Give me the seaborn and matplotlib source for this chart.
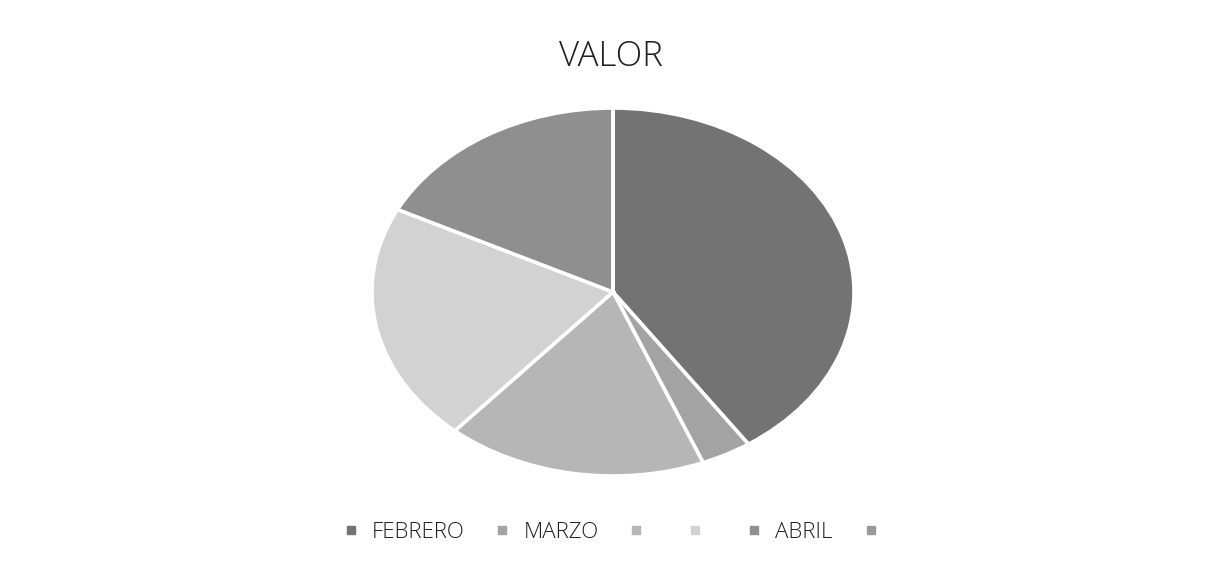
import matplotlib.pyplot as plt
from matplotlib.lines import Line2D
import seaborn as sns

# Datos (porcentajes aproximados)
labels = ['FEBRERO', 'MARZO', '', '', 'ABRIL', '']
values = [40.5, 3.4, 17.5, 21.0, 17.6, 0.0]
colors = ['#737373', '#a3a3a3', '#b6b6b6', '#d2d2d2', '#8f8f8f', '#9a9a9a']


def main():
    sns.set_theme(style="white")
    plt.rcParams['font.family'] = ['Open Sans', 'DejaVu Sans']

    fig = plt.figure(figsize=(12.06, 5.63), dpi=100)
    # axes placed so the stretched pie fills an ellipse like the original
    ax = fig.add_axes([372 / 1206, 1 - 476 / 563, 482 / 1206, 368 / 563])

    wedges, _ = ax.pie(
        values, colors=colors, startangle=90, counterclock=False,
        wedgeprops=dict(edgecolor='white', linewidth=2.6),
    )
    ax.set_aspect('auto')
    ax.set_xlim(-1.0, 1.0)
    ax.set_ylim(-1.0, 1.0)
    ax.axis('off')

    fig.text(611 / 1206, 1 - 57 / 563, 'VALOR', ha='center', va='center',
             fontsize=25, fontweight='light', color='#1e1e1e')

    # square markers for the legend
    handles = [Line2D([], [], marker='s', linestyle='', markersize=6,
                      markerfacecolor=c, markeredgecolor=c) for c in colors]
    fig.legend(handles, labels, loc='center', bbox_to_anchor=(619 / 1206, 1 - 532 / 563),
               ncol=len(labels), frameon=False,
               prop={'size': 16, 'weight': 'light'},
               handlelength=0.4, handletextpad=0.75,
               columnspacing=1.5, labelcolor='#1e1e1e')

    fig.savefig('out.png', dpi=100, facecolor='white')


if __name__ == "__main__":
    main()
